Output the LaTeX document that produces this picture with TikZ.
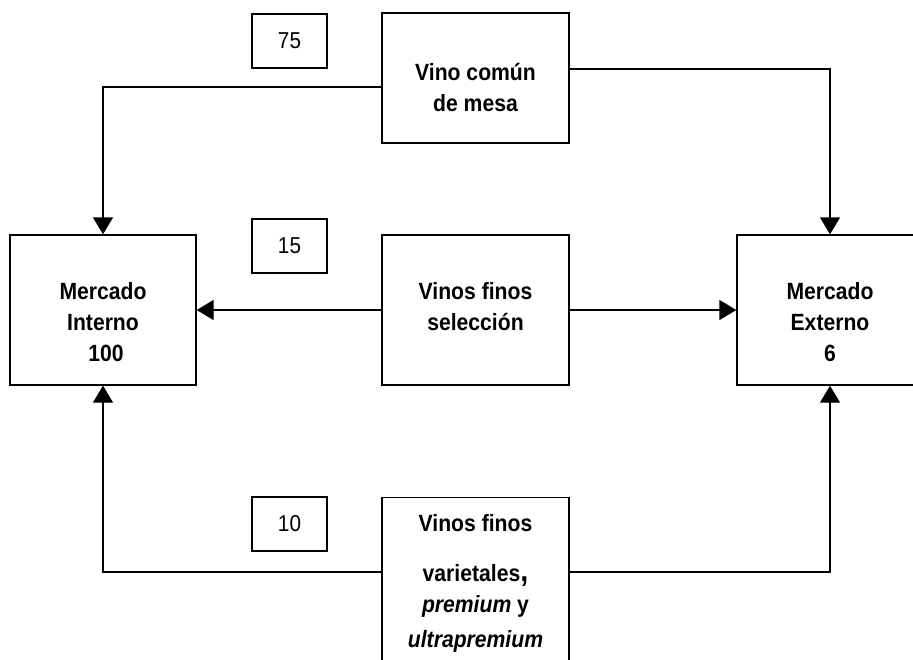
\documentclass[tikz,border=0pt]{standalone}
\usepackage{fontspec}
\setmainfont{Liberation Sans}[FakeStretch=0.9]
\usetikzlibrary{positioning,arrows.meta}
\tikzset{
caja/.style={draw, line width=1.4pt, inner sep=0pt},
grande/.style={caja, minimum width=187pt},
cifra/.style={caja, minimum width=75pt, minimum height=54pt, font=\fontsize{23}{31}\selectfont},
texto/.style={align=center, inner sep=0pt, font=\bfseries\fontsize{23.5}{31}\selectfont},
flecha/.style={line width=1.4pt, -{Triangle[length=17pt,width=20pt]}}
}

\begin{document}
\begin{tikzpicture}[x=1pt,y=-1pt]
\useasboundingbox (0,0) rectangle (913,659);
\clip (0,0) rectangle (913,659);

\node[grande, minimum height=130pt] (comun) at (475.5,78) {};
\node[grande, minimum height=150pt] (seleccion) at (475.5,310) {};
\node[grande, minimum height=190pt, anchor=north] (varietal) at (475.5,497) {};
\node[caja, minimum width=186pt, minimum height=150pt] (interno) at (103,310) {};
\node[caja, minimum width=186pt, minimum height=150pt] (externo) at (830,310) {};

\node[texto] (tcomun) at ([yshift=-9pt]comun.center) {Vino común\\de mesa};
\node[texto] (tseleccion) at ([yshift=3pt]seleccion.center) {Vinos finos\\selección};
\node[texto] (tinterno) at ([yshift=-12.5pt]interno.center) {Mercado\\Interno\\~100};
\node[texto] (texterno) at ([yshift=-12.5pt]externo.center) {Mercado\\Externo\\6};
\node[texto] (tvarietal) at ([yshift=-86.5pt]varietal.north) {Vinos finos\\[19pt]varietales{\fontsize{32}{31}\selectfont,}\\\textit{premium} y\\[4pt]\textit{ultrapremium}};

\foreach \n/\y in {75/41,15/246,10/524}
	\node[cifra] (n\n) at (289.5,\y) {\n};

\draw[flecha] ([yshift=-9pt]comun.west) -| (interno.north);
\draw[flecha] ([yshift=9pt]comun.east) -| (externo.north);
\draw[flecha] (seleccion.west) -- (interno.east);
\draw[flecha] (seleccion.east) -- (externo.west);
\draw[flecha] ([yshift=-75pt]varietal.north west) -| (interno.south);
\draw[flecha] ([yshift=-75pt]varietal.north east) -| (externo.south);
\end{tikzpicture}
\end{document}
